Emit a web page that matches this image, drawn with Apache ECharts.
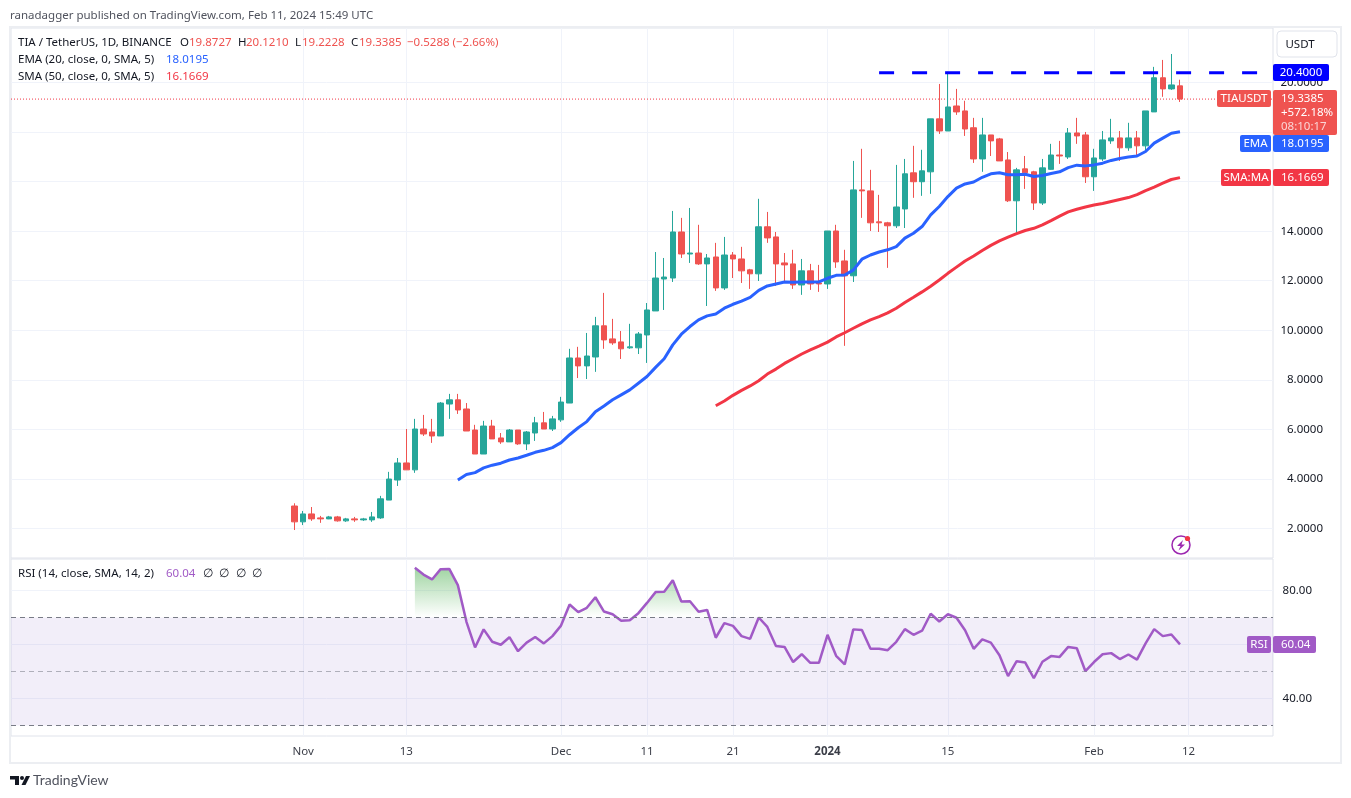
<!DOCTYPE html>
<html>
<head>
<meta charset="utf-8">
<title>TIA / TetherUS</title>
<style>
  html, body { margin: 0; padding: 0; background: #fff; }
  #chart { width: 1351px; height: 798px; }
</style>
<script src="https://cdn.jsdelivr.net/npm/echarts@6/dist/echarts.min.js"></script>
</head>
<body>
<div id="chart"></div>
<script>
// x positions are day numbers, 0 = Oct 31 2023
const tickDays = [1, 13, 31, 41, 51, 62, 76, 93, 104];
const tickLabels = ['Nov', '13', 'Dec', '11', '21', '2024', '15', 'Feb', '12'];
const priceTicks = [2, 4, 6, 8, 10, 12, 14, 16, 18, 20];
const rsiTicks = [40, 60, 80];

const opens = [
  2.90, 2.26, 2.58, 2.42, 2.38, 2.46, 2.30, 2.38, 2.34, 2.34,
  2.42, 3.14, 3.95, 4.64, 4.36, 6.01, 5.89, 5.73, 7.02, 7.19,
  6.82, 5.97, 5.00, 6.13, 5.65, 5.49, 5.97, 5.41, 5.85, 6.26,
  6.01, 6.38, 7.06, 8.88, 8.56, 8.92, 10.18, 9.65, 9.53, 9.29,
  9.29, 9.81, 10.78, 12.07, 12.11, 13.97, 13.08, 13.12, 12.68, 12.96,
  11.71, 13.04, 12.88, 12.44, 12.28, 14.18, 13.77, 12.72, 12.68, 11.83,
  12.40, 11.91, 11.87, 14.01, 12.80, 12.20, 15.67, 15.63, 14.38, 14.34,
  14.22, 14.90, 16.36, 16.00, 16.40, 18.54, 18.05, 19.06, 18.86, 18.18,
  16.92, 17.89, 17.73, 16.88, 15.23, 16.52, 16.40, 15.14, 16.50, 17.08,
  17.00, 17.97, 17.89, 16.20, 16.92, 17.65, 17.77, 17.37, 17.77, 17.45,
  18.82, 20.20, 19.75, 19.8727
];
const closes = [
  2.26, 2.58, 2.38, 2.38, 2.46, 2.30, 2.38, 2.34, 2.38, 2.46,
  3.19, 3.99, 4.64, 4.36, 6.01, 5.81, 5.73, 7.06, 7.19, 6.78,
  5.93, 5.00, 6.13, 5.61, 5.49, 5.97, 5.41, 5.89, 6.26, 6.01,
  6.42, 7.10, 8.88, 8.56, 8.96, 10.18, 9.61, 9.49, 9.25, 9.33,
  9.85, 10.82, 12.11, 12.15, 13.97, 13.08, 13.12, 12.68, 12.92, 11.71,
  13.04, 12.88, 12.40, 12.28, 14.18, 13.73, 12.68, 12.64, 11.83, 12.40,
  11.87, 11.87, 14.01, 12.76, 12.20, 15.67, 15.63, 14.34, 14.34, 14.22,
  14.98, 16.32, 16.00, 16.44, 18.54, 18.05, 19.02, 18.82, 18.13, 16.92,
  17.89, 17.65, 16.84, 15.23, 16.48, 16.36, 15.14, 16.56, 17.08, 17.04,
  17.97, 17.85, 16.20, 16.96, 17.69, 17.77, 17.37, 17.77, 17.45, 18.86,
  20.20, 19.75, 19.91, 19.3385
];
const highs = [
  3.01, 2.70, 2.86, 2.50, 2.50, 2.50, 2.42, 2.46, 2.42, 2.66,
  3.31, 4.28, 4.84, 6.01, 6.42, 6.58, 6.42, 7.10, 7.43, 7.43,
  7.06, 6.18, 6.34, 6.38, 5.85, 6.01, 5.97, 5.93, 6.50, 6.70,
  6.54, 7.31, 9.25, 9.33, 9.89, 10.54, 11.51, 10.46, 9.97, 10.26,
  9.93, 11.10, 13.16, 12.92, 14.82, 14.54, 14.94, 14.26, 13.08, 13.53,
  13.77, 13.16, 13.37, 12.48, 15.31, 14.78, 13.97, 13.12, 13.25, 12.88,
  12.68, 12.64, 14.01, 14.26, 13.25, 16.84, 17.33, 16.48, 15.47, 14.38,
  16.68, 16.92, 17.45, 17.29, 18.54, 19.95, 20.44, 19.75, 19.27, 18.58,
  18.58, 17.89, 17.77, 17.20, 16.56, 17.04, 16.44, 16.92, 17.53, 17.65,
  18.17, 18.58, 18.01, 17.33, 18.05, 18.54, 18.05, 18.38, 18.05, 18.86,
  20.64, 20.92, 21.16, 20.1210
];
const lows = [
  1.93, 2.13, 2.30, 2.22, 2.37, 2.27, 2.26, 2.26, 2.30, 2.26,
  2.38, 3.14, 3.71, 4.36, 4.24, 5.73, 5.45, 5.73, 6.42, 6.62,
  5.93, 5.00, 5.00, 5.61, 5.41, 5.49, 5.37, 5.16, 5.53, 6.01,
  5.93, 6.30, 7.06, 8.07, 8.03, 8.32, 9.25, 9.41, 8.84, 9.25,
  9.04, 8.68, 10.78, 10.82, 11.95, 12.92, 12.72, 12.64, 10.98, 11.59,
  11.63, 12.11, 11.91, 11.67, 11.99, 13.53, 11.79, 11.99, 11.67, 11.43,
  11.63, 11.55, 11.67, 12.52, 9.37, 11.95, 14.54, 14.01, 13.97, 12.52,
  14.13, 14.13, 15.35, 15.43, 15.51, 17.93, 18.05, 18.70, 17.85, 16.76,
  16.40, 17.04, 16.84, 15.18, 13.93, 15.71, 14.86, 15.06, 16.48, 16.72,
  16.92, 17.53, 15.95, 15.63, 16.84, 17.53, 16.84, 17.25, 17.08, 17.17,
  18.82, 19.43, 19.71, 19.2228
];

// EMA starts at day 19, SMA at day 49, RSI at day 14
const emaStart = 19;
const emaValues = [
  3.95, 4.17, 4.25, 4.44, 4.55, 4.63, 4.76, 4.84, 4.95, 5.07,
  5.15, 5.26, 5.46, 5.78, 6.06, 6.31, 6.71, 6.94, 7.19, 7.39,
  7.59, 7.86, 8.13, 8.50, 8.85, 9.41, 9.84, 10.15, 10.42, 10.58,
  10.66, 10.89, 11.05, 11.18, 11.33, 11.61, 11.79, 11.87, 11.95, 11.94,
  11.95, 11.95, 11.95, 12.10, 12.22, 12.23, 12.43, 12.87, 13.04, 13.16,
  13.25, 13.38, 13.72, 13.92, 14.19, 14.66, 15.00, 15.40, 15.74, 15.91,
  15.99, 16.18, 16.32, 16.36, 16.28, 16.28, 16.30, 16.21, 16.25, 16.33,
  16.40, 16.57, 16.67, 16.64, 16.68, 16.75, 16.86, 16.94, 17.00, 17.04,
  17.22, 17.56, 17.76, 17.96, 18.0195
];
const smaStart = 49;
const smaValues = [
  6.95, 7.14, 7.37, 7.57, 7.75, 7.96, 8.23, 8.43, 8.66, 8.85,
  9.04, 9.21, 9.36, 9.52, 9.73, 9.90, 10.08, 10.26, 10.42, 10.55,
  10.70, 10.89, 11.12, 11.33, 11.55, 11.78, 12.03, 12.30, 12.55, 12.80,
  13.00, 13.22, 13.43, 13.61, 13.76, 13.90, 14.03, 14.12, 14.26, 14.43,
  14.61, 14.78, 14.89, 14.98, 15.06, 15.12, 15.20, 15.28, 15.36, 15.48,
  15.64, 15.78, 15.94, 16.09, 16.1669
];
const rsiStart = 14;
const rsiValues = [
  88.4, 85.9, 84.1, 87.9, 88.0, 82.0, 68.4, 58.9, 65.6, 61.0,
  59.9, 62.7, 57.5, 60.7, 62.8, 60.4, 63.1, 67.0, 74.8, 72.0,
  73.6, 77.5, 72.2, 71.2, 68.8, 69.0, 71.6, 75.4, 79.4, 79.5,
  83.8, 75.9, 76.0, 72.1, 72.8, 62.5, 67.9, 66.9, 63.1, 62.1,
  70.0, 66.5, 59.4, 59.1, 53.5, 56.4, 53.2, 53.2, 63.6, 55.8,
  52.6, 65.6, 65.4, 58.4, 58.4, 57.9, 61.0, 65.7, 63.6, 65.1,
  71.4, 68.5, 71.2, 69.9, 65.3, 58.4, 61.9, 60.7, 56.0, 48.3,
  53.8, 53.3, 47.5, 53.6, 55.7, 55.4, 59.1, 58.6, 50.1, 53.5,
  56.4, 56.8, 54.6, 56.3, 54.4, 60.4, 65.7, 63.1, 63.7, 60.04
];

const resistanceLevel = 20.4;
const resistanceDays = [68, 112];
const lastClose = 19.3385;
const dayMin = -32.98;
const dayMax = 113.82;

const upColor = '#26a69a';
const downColor = '#ef5350';
const gridColor = '#f0f3fa';
const borderColor = '#e0e3eb';
const textColor = '#131722';
const fontName = '"Noto Sans", sans-serif';
const fontSize = 11.5;

function withDays(values, start) {
  return values.map(function (v, i) { return [start + i, v]; });
}

const candleData = opens.map(function (o, i) {
  return [i, o, closes[i], lows[i], highs[i]];
});

function txt(x, y, text, color, align, font) {
  return {
    type: 'text', x: x, y: y + 1, z: 110, silent: true,
    style: {
      text: text, fill: color || textColor, font: font || (fontSize + 'px ' + fontName),
      align: align || 'left', verticalAlign: 'middle'
    }
  };
}

function tag(x, y, w, h, color) {
  return {
    type: 'rect', z: 105, silent: true,
    shape: { x: x, y: y, width: w, height: h, r: 2 },
    style: { fill: color }
  };
}

const overlay = [
  { type: 'rect', z: 1, silent: true, shape: { x: 10, y: 27, width: 1331, height: 736 },
    style: { fill: 'none', stroke: '#eceef2', lineWidth: 2 } },

  txt(10, 15, 'ranadagger published on TradingView.com, Feb 11, 2024 15:49 UTC', '#50535e'),

  // legend
  txt(18, 42, 'TIA / TetherUS, 1D, BINANCE'),
  txt(180, 42, 'O'), txt(189, 42, '19.8727', downColor),
  txt(238, 42, 'H'), txt(246, 42, '20.1210', downColor),
  txt(295, 42, 'L'), txt(302, 42, '19.2228', downColor),
  txt(351, 42, 'C'), txt(359, 42, '19.3385', downColor),
  txt(407, 42, '\u22120.5288 (\u22122.66%)', downColor),
  txt(18, 59, 'EMA (20, close, 0, SMA, 5)'), txt(166, 59, '18.0195', '#2962ff'),
  txt(18, 76, 'SMA (50, close, 0, SMA, 5)'), txt(166, 76, '16.1669', '#f23645'),
  txt(18, 573, 'RSI (14, close, SMA, 14, 2)'), txt(166, 573, '60.04', '#a15ac6'),
  txt(203, 573, '\u2205'), txt(219, 573, '\u2205'), txt(236, 573, '\u2205'), txt(252, 573, '\u2205'),

  // USDT button
  { type: 'rect', z: 105, silent: true, shape: { x: 1277, y: 31, width: 60, height: 26, r: 4 },
    style: { fill: '#fff', stroke: borderColor, lineWidth: 1 } },
  txt(1300, 44, 'USDT', textColor, 'center'),

  // price tags on the right
  tag(1273, 64, 56, 17, '#0000ff'), txt(1301, 71.5, '20.4000', '#fff', 'center'),
  tag(1217, 90, 54, 17, downColor), txt(1244, 97.5, 'TIAUSDT', '#fff', 'center'),
  tag(1273, 90, 64, 45, downColor),
  txt(1281, 97.5, '19.3385', '#fff'),
  txt(1281, 112, '+572.18%', '#fff'),
  txt(1281, 126, '08:10:17', '#fbd5d5'),
  tag(1240, 135, 31, 17, '#2962ff'), txt(1255.5, 142.5, 'EMA', '#fff', 'center'),
  tag(1273, 135, 56, 17, '#2962ff'), txt(1281, 142.5, '18.0195', '#fff'),
  tag(1221, 169, 50, 17, '#f23645'), txt(1246, 176.5, 'SMA:MA', '#fff', 'center'),
  tag(1273, 169, 56, 17, '#f23645'), txt(1281, 176.5, '16.1669', '#fff'),
  tag(1247, 636, 24, 17, '#a15ac6'), txt(1259, 643.5, 'RSI', '#fff', 'center'),
  tag(1273, 636, 43, 17, '#a15ac6'), txt(1281, 643.5, '60.04', '#fff'),

  // bolt badge
  { type: 'circle', z: 105, silent: true, shape: { cx: 1181, cy: 545, r: 9 },
    style: { fill: 'none', stroke: '#9c27b0', lineWidth: 1.5 } },
  { type: 'polygon', z: 106, silent: true,
    shape: { points: [[1183, 540], [1177, 546], [1180.5, 546], [1178.5, 550.5], [1185, 544.5], [1181.5, 544.5]] },
    style: { fill: '#9c27b0' } },
  { type: 'circle', z: 107, silent: true, shape: { cx: 1187.5, cy: 538.5, r: 2.6 },
    style: { fill: '#f23645' } },

  // TradingView logo
  { type: 'polygon', z: 105, silent: true,
    shape: { points: [[10, 776], [19, 776], [19, 785], [15, 785], [15, 779.5], [10, 779.5]] },
    style: { fill: textColor } },
  { type: 'circle', z: 105, silent: true, shape: { cx: 22, cy: 778, r: 2 }, style: { fill: textColor } },
  { type: 'polygon', z: 105, silent: true,
    shape: { points: [[26, 776], [30, 776], [25.5, 785], [21.5, 785]] },
    style: { fill: textColor } },
  txt(33, 779.5, 'TradingView', '#50535e', 'left', '14px Lato, sans-serif')
];

const chart = echarts.init(document.getElementById('chart'), null, { renderer: 'canvas' });

const option = {
  animation: false,
  backgroundColor: '#fff',
  textStyle: { fontFamily: fontName },
  grid: [
    { left: 11, top: 28, width: 1262, height: 530, show: true, borderColor: borderColor, borderWidth: 1 },
    { left: 11, top: 559, width: 1262, height: 177, show: true, borderColor: borderColor, borderWidth: 1 }
  ],
  xAxis: [
    {
      type: 'value', gridIndex: 0, min: dayMin, max: dayMax,
      axisLine: { show: false },
      axisTick: { show: false, customValues: tickDays },
      axisLabel: { show: false },
      splitLine: { show: true, lineStyle: { color: gridColor, width: 1 } }
    },
    {
      type: 'value', gridIndex: 1, min: dayMin, max: dayMax,
      axisLine: { show: false },
      axisTick: { show: false, customValues: tickDays },
      axisLabel: {
        show: true, customValues: tickDays, margin: 10, color: '#3b3e48', fontSize: fontSize, lineHeight: 12,
        formatter: function (v) {
          const label = tickLabels[tickDays.indexOf(v)];
          return label === '2024' ? '{b|2024}' : label;
        },
        rich: { b: { fontWeight: 'bold', fontSize: fontSize, color: '#3b3e48' } }
      },
      splitLine: { show: true, lineStyle: { color: gridColor, width: 1 } }
    }
  ],
  yAxis: [
    {
      type: 'value', gridIndex: 0, position: 'right', min: 0.8, max: 22.21,
      axisLine: { show: false },
      axisTick: { show: false, customValues: priceTicks },
      axisLabel: {
        customValues: priceTicks, color: '#131722', fontSize: fontSize, align: 'right', margin: 50,
        formatter: function (v) { return v.toFixed(4); }
      },
      splitLine: { show: true, lineStyle: { color: gridColor, width: 1 } }
    },
    {
      type: 'value', gridIndex: 1, position: 'right', min: 26.1, max: 91.67,
      axisLine: { show: false },
      axisTick: { show: false, customValues: rsiTicks },
      axisLabel: {
        customValues: rsiTicks, color: '#131722', fontSize: fontSize, align: 'right', margin: 39,
        formatter: function (v) { return v.toFixed(2); }
      },
      splitLine: { show: true, lineStyle: { color: gridColor, width: 1 } }
    }
  ],
  series: [
    {
      name: 'TIAUSDT',
      type: 'candlestick',
      xAxisIndex: 0, yAxisIndex: 0,
      data: candleData,
      barWidth: 6,
      itemStyle: {
        color: upColor, color0: downColor,
        borderColor: upColor, borderColor0: downColor,
        borderWidth: 1
      }
    },
    {
      name: 'Last close', type: 'line', xAxisIndex: 0, yAxisIndex: 0,
      data: [[dayMin, lastClose], [dayMax, lastClose]],
      showSymbol: false, lineStyle: { color: '#f23645', width: 1, type: [1, 2] }, z: 1
    },
    {
      name: 'EMA', type: 'line', xAxisIndex: 0, yAxisIndex: 0,
      data: withDays(emaValues, emaStart),
      showSymbol: false, lineStyle: { color: '#2962ff', width: 3 }, z: 3
    },
    {
      name: 'SMA', type: 'line', xAxisIndex: 0, yAxisIndex: 0,
      data: withDays(smaValues, smaStart),
      showSymbol: false, lineStyle: { color: '#f23645', width: 3 }, z: 3
    },
    {
      name: 'Resistance', type: 'line', xAxisIndex: 0, yAxisIndex: 0,
      data: resistanceDays.map(function (d) { return [d, resistanceLevel]; }),
      showSymbol: false, lineStyle: { color: '#0000ff', width: 3, type: [15, 18] }, z: 4
    },
    {
      // green fill above 70, the gradient ends at the 70 line so nothing shows below it
      name: 'RSI fill', type: 'line', xAxisIndex: 1, yAxisIndex: 1,
      data: withDays(rsiValues, rsiStart),
      showSymbol: false, lineStyle: { opacity: 0 }, z: 2,
      areaStyle: {
        origin: 70,
        opacity: 1,
        color: new echarts.graphic.LinearGradient(0, 566, 0, 617, [
          { offset: 0, color: 'rgba(76,175,80,0.55)' },
          { offset: 1, color: 'rgba(76,175,80,0)' }
        ], true)
      }
    },
    {
      name: 'RSI', type: 'line', xAxisIndex: 1, yAxisIndex: 1,
      data: withDays(rsiValues, rsiStart),
      showSymbol: false, lineStyle: { color: '#a15ac6', width: 2.5 }, z: 3,
      markArea: {
        silent: true,
        itemStyle: { color: 'rgba(126,87,194,0.1)' },
        data: [[{ yAxis: 70 }, { yAxis: 30 }]]
      },
      markLine: {
        silent: true, symbol: 'none', animation: false,
        label: { show: false },
        lineStyle: { color: '#787b86', type: [5, 4], width: 1 },
        data: [
          { yAxis: 70 },
          { yAxis: 50, lineStyle: { color: 'rgba(120,123,134,0.55)' } },
          { yAxis: 30 }
        ]
      }
    }
  ],
  graphic: overlay
};

chart.setOption(option);
</script>
</body>
</html>
